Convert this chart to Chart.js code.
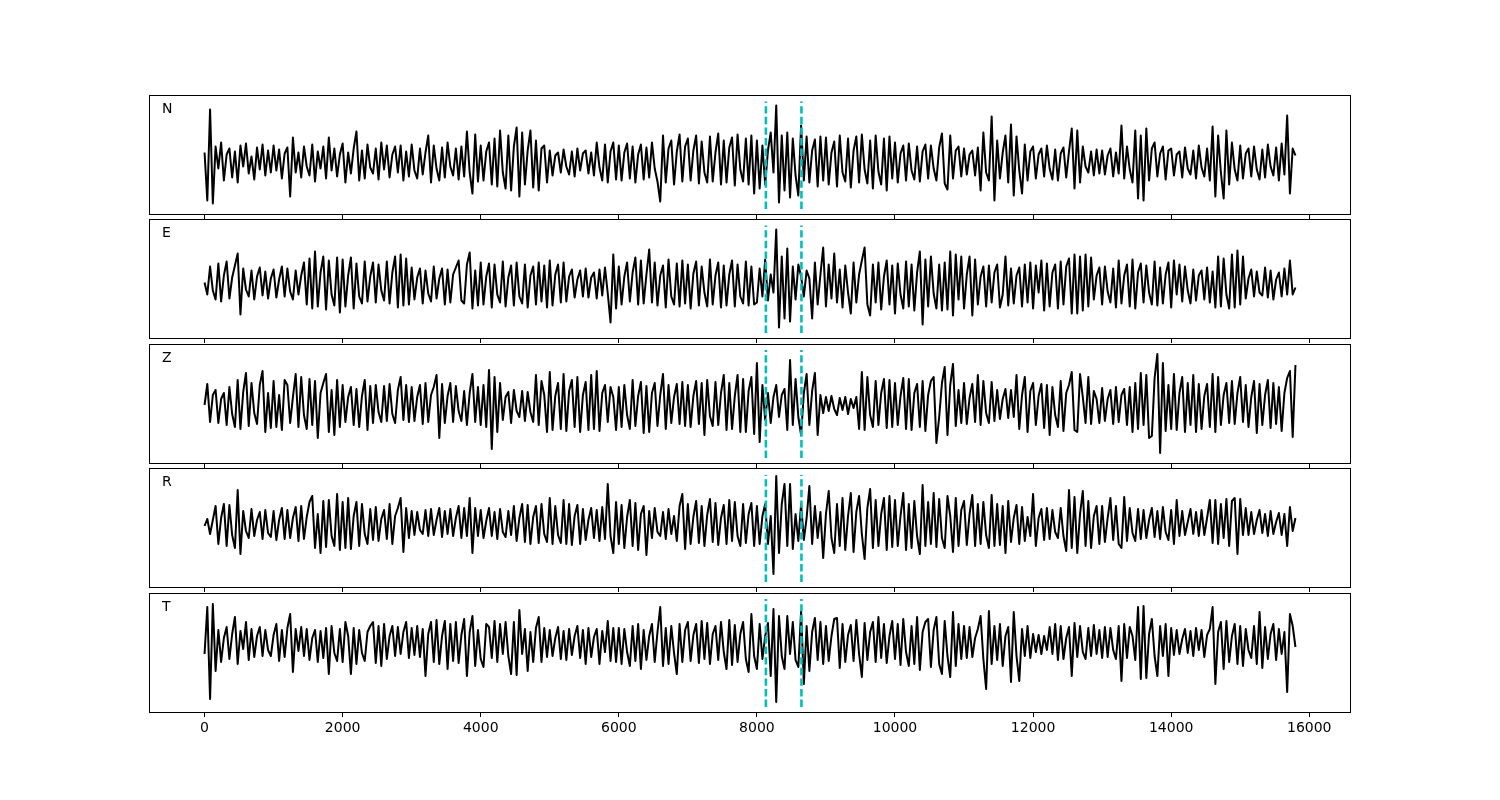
<!DOCTYPE html>
<html>
<head>
<meta charset="utf-8">
<title>Traces N E Z R T</title>
<script src="https://cdn.jsdelivr.net/npm/chart.js@4"></script>
<style>
    body { margin: 0; background: #fff; }
    #wrap { position: relative; width: 1500px; height: 800px; }
    #wrap canvas { position: absolute; left: 0; top: 0; }
</style>
</head>
<body>
<div id="wrap"></div>
<script>
// one value every STEP samples (amplitude, arbitrary units)
const STEP = 40;
const channels = ['N', 'E', 'Z', 'R', 'T'];
const xTicks = [0, 2000, 4000, 6000, 8000, 10000, 12000, 14000, 16000];
const eventMarks = [8130, 8645];

const traceN = [
    8, -40, 51, -43, 14, -8, 18, -20, 6, 12, -17, 9, -22, 15, -6, 17, -13, 4, -19, 13, -9, 16, -15, 10, -12,
    15, -10, 11, -18, 7, 13, -36, 23, -12, 8, -17, 14, -6, -15, 16, -21, 9, -8, 14, -18, 23, -10, 12, -16, 6,
    17, -22, 8, -13, 12, 29, -20, 10, -18, 16, -7, -13, 12, -19, 18, -9, 15, -17, 6, 14, -12, 15, -20, 9, -16,
    16, -10, -18, 12, -14, 8, 25, -22, 15, -8, -20, 13, -17, 18, -6, -15, 12, -19, 14, -16, 29, -12, -33, 26, -21,
    15, -20, 9, 18, -24, 22, -26, 30, -12, -28, 25, -30, 14, 33, -36, 28, -24, 10, 30, -27, 20, -30, 12, 15, -22,
    10, -15, 5, 8, -12, 11, -6, -14, 9, -16, 12, -10, 7, 10, -13, 8, -15, 18, -7, -20, 16, -22, 9, 18, -19,
    15, -20, 8, 17, -18, 14, -22, 6, 16, -19, 13, -17, 18, -8, -21, -41, 25, -22, 12, 20, -24, 9, 26, -21, 14,
    22, -20, 10, 25, -23, 19, -12, -22, 24, -21, 8, 27, -24, 20, -22, 13, 23, -25, 26, -9, -21, 22, -24, 25, -33,
    20, -28, 15, -24, 10, 28, -12, 55, -42, 25, -30, 28, -37, 22, -15, -35, 35, -20, 24, -22, 10, 21, -26, 24, -20,
    23, -24, 8, 19, -26, 25, -12, -21, 22, -27, 10, 24, -22, 26, -9, -23, 20, -28, 25, -11, -24, 22, -30, 24, -18,
    18, -22, 7, 15, -20, 17, -10, -19, 14, -21, 9, 16, -18, 15, -8, -20, 13, 27, -23, -29, 25, -18, 10, 14, -16,
    12, -14, 6, 10, -15, 13, -30, 28, -12, -20, 44, -40, 20, -18, 8, 25, -22, 36, -35, 24, -10, -33, 16, -20, 9,
    14, -18, 6, 12, -16, 15, -8, -19, 11, -20, 7, 13, -17, 9, 32, -28, 30, -22, 14, -6, -12, 9, -15, 11, -13,
    10, -14, 5, 12, -16, 8, -13, 35, -18, 14, -9, -22, 30, -38, 25, -40, 32, -20, 12, 18, -16, 7, 14, -19, 10,
    12, -15, 6, 9, -17, 13, -8, -14, 10, -18, 15, -7, -16, 12, -20, 34, -36, 25, -12, -38, 30, -24, 18, -9, -20,
    15, -18, 7, 12, -16, 14, -9, -19, 11, -17, 16, -6, -15, 13, -20, 17, -14, 45, -33, 12, 5
];

const traceE = [
    2, -10, 18, -6, -15, 21, -17, 9, 23, -14, 7, 19, 31, -30, 16, -5, -12, 14, -15, 8, 17, -11, 13, -14, 6,
    15, -13, 5, 18, -12, 16, -7, -15, 14, -10, 9, 22, -20, 26, -24, 33, -22, 12, 28, -25, 24, -10, -21, 27, -28,
    25, -22, 9, 27, -24, 21, -12, -19, 23, -17, 8, 22, -18, 20, -6, -16, 23, -19, 12, 28, -23, 30, -21, 26, -20,
    17, -15, 7, 16, -19, 14, -9, -17, 18, -14, 6, 16, -20, 15, -18, 10, 17, 24, -16, -19, 20, 32, -24, 14, -21,
    22, -20, 8, 21, -23, 20, -10, -18, 23, -22, 7, 19, -21, 22, -12, -19, 20, -23, 9, 18, -20, 22, -17, 19, -23,
    24, -21, 10, 20, -18, 22, -17, 8, 15, -13, 5, 14, -12, 16, -13, 7, 12, -14, 15, -11, 17, -9, -38, 30, -24,
    18, -20, 8, 22, -17, 12, 27, -20, 24, -19, 10, 35, -18, 22, -21, 9, 19, -23, 25, -12, -20, 21, -22, 24, -19,
    20, -24, 11, 23, -21, 18, -8, -22, 25, -20, 9, 22, -23, 19, -21, 10, 24, -22, 20, -12, -19, 23, -21, 18, -20,
    -18, 16, -12, 25, -16, 10, -8, 55, -43, 28, -34, 36, -37, 18, -15, 20, 8, -12, 14, 6, -34, 22, -20, 10, 37,
    -22, 20, -14, 31, -18, 15, -23, 19, -8, -29, 22, -18, 10, 24, 37, -20, -31, 20, -18, 22, -25, 8, 24, -20, 19,
    -29, 21, -10, -24, 23, -22, 20, -26, 12, 33, -40, 25, -22, 28, -9, -24, 20, -26, 22, -25, 33, -31, 30, -15, 28,
    -24, 10, 28, -31, 25, -20, 8, 18, -22, 19, -18, 12, 20, -23, -10, 28, -21, 16, -19, 9, 17, -22, 20, -18, 22,
    -24, 19, -8, 24, -26, 21, -22, 12, 20, -24, 23, -20, 18, 26, -29, 30, -29, 28, -26, 30, -22, 27, -15, 9, 17,
    -20, 18, -7, -18, 16, -23, 24, -19, 9, 20, -22, 25, -24, 12, 21, -18, 19, -8, -20, 23, -21, 17, -19, 10, 22,
    -23, 24, -10, 20, -17, 18, -6, -19, 15, -16, 9, 14, -15, 17, -18, 13, -23, 28, -22, 26, -10, -24, 30, -23, 34,
    -20, 28, -14, 6, 15, -12, 13, -8, -11, 17, -13, 14, -15, 5, 12, -12, 16, -10, 24, -10, -3
];

const traceZ = [
    0, 21, -17, 10, 15, -18, 6, 12, -20, 18, -9, -22, 25, -24, 13, 32, -21, 22, -8, -19, 20, 34, -27, 12, -23,
    24, -22, 10, -25, 25, 20, -18, 8, 31, -22, 28, -10, -24, 26, -20, 24, -33, 12, 22, 31, -27, 15, -30, 25, -22,
    20, -17, 8, 18, -20, 16, -22, 9, 25, -25, 19, -18, 20, -7, -17, 19, -16, 21, -9, -18, 15, 28, -15, 20, -17,
    18, -16, 8, 20, -19, 22, -17, 10, 18, 30, -33, 21, -18, 9, 22, -17, 19, -6, -16, 14, -20, 12, 31, -17, 18,
    -20, 20, -22, 35, -44, 28, -27, 22, -15, 8, 13, -18, 15, -6, -12, 14, -16, 13, -7, -17, 30, -20, 24, 10, -27,
    33, -25, 9, 22, -24, 31, -26, 14, 25, -22, 28, -27, 10, 23, -25, 30, -24, 34, -26, 12, 20, -17, 18, 8, -25,
    18, -22, 20, -10, -24, 25, -21, 9, 23, -28, 19, -27, 12, 22, -21, 10, 31, -24, 20, -18, 8, 21, -19, 23, -21,
    20, -22, 9, 24, -19, 22, -30, 25, -11, -21, 23, -20, 12, 30, -25, 22, -24, 9, 30, -27, 26, -27, 14, 28, -29,
    42, -37, 20, -15, 12, -18, 8, 20, -12, 10, 16, -25, 45, -20, 26, -12, -30, 12, 31, -20, 14, 32, -30, 10, -8,
    8, -6, 9, -4, -10, 7, -5, 8, -9, 6, -3, 8, -24, 33, -25, 28, -10, -22, 24, -20, 12, 26, -23, 25, -22,
    22, -20, 9, 27, -24, 26, -25, 12, 21, -22, 24, -26, 10, 24, 28, -38, -12, 22, 38, -30, 20, 41, -21, 15, -18,
    22, -19, 7, 21, -17, 30, -20, 24, -8, -18, 23, -16, 15, -14, 6, 16, -13, 15, -12, 30, -24, 10, 28, -27, 14,
    22, -20, 9, 21, -23, 20, -30, 18, -10, -22, 24, -26, 12, 20, 33, -25, -27, 31, 8, -18, 28, -19, 14, 6, -18,
    17, -16, 6, 15, -19, 18, -17, 10, 16, -20, 18, -27, 22, -24, 32, -20, 30, -33, -31, 27, 51, -48, 42, -26, 20,
    -24, 31, -25, 12, 28, -27, 22, -20, 30, -27, 21, -24, 9, 21, -22, 31, -27, 28, -20, 10, 22, -18, 24, -19, 12,
    28, -17, 20, -22, 8, 24, -28, 21, -20, 10, 25, -23, 22, -19, 18, -26, 12, 27, 34, -32, 40
];

const traceR = [
    0, 7, -8, 6, 20, -18, 8, 22, -20, 21, -9, -22, 36, -28, 15, -5, -12, 17, -10, 6, 14, -13, 16, -7, -11,
    15, -14, 6, 18, -13, 16, -12, 8, 19, -15, 20, -13, 9, 24, 30, -22, 12, -27, 25, -21, 26, -10, -20, 32, -24,
    24, -22, 28, -23, 10, 24, -20, 22, -8, -18, 17, -14, 19, -15, 7, 16, -13, 22, -18, 10, 18, 28, -26, 18, -12,
    15, -9, 14, -4, -8, 16, -10, 17, -9, 6, 18, -11, 15, -8, 17, -10, 8, 20, -12, 18, -10, 28, -27, 18, -10,
    16, -12, 5, 18, -10, 14, -13, 17, -6, -11, 15, -9, 20, -15, 8, 22, -16, 21, -18, 9, 20, -17, 22, -8, -16,
    28, -18, 20, -9, -17, 26, -18, 22, -19, 10, 21, -18, 17, -14, 6, 18, -12, 16, -15, 19, -13, 42, -10, -27, 24,
    -18, 21, -22, 9, 26, -20, 23, -24, 12, 20, -29, 15, -12, 18, -6, -10, 14, -13, 17, -8, 10, -15, 20, 32, -23,
    22, -18, 9, 25, -17, 20, -20, 11, 27, -16, 23, -19, 8, 21, -18, 26, -15, 24, -10, -20, 22, -17, 12, 23, -20,
    20, -18, 10, 22, -18, 10, -48, 50, -27, 22, 42, -20, 42, -23, 12, -15, 22, -14, 8, 40, -18, 20, -12, 14, -32,
    12, 35, -12, -27, 22, -20, 28, -24, 10, 33, -26, 14, 30, -8, -33, 18, 37, -22, 26, -20, 12, 28, -24, 30, -21,
    26, -20, 10, 33, -24, 22, -22, 25, -10, -28, 41, -20, 24, -18, 33, -21, 27, -12, -22, 30, 10, -26, 28, -20, 16,
    25, -19, 12, 31, -20, 22, -18, 24, -9, -22, 31, -20, 22, -19, 20, -27, 25, -16, 8, 21, -18, 19, -15, 9, -10,
    32, -20, 8, 17, -14, 18, -13, 16, -6, -12, 18, -10, -25, 36, -22, 29, -27, 12, 35, -20, 25, -22, 10, 20, -18,
    20, -16, 8, 28, -14, 20, -18, -22, 29, -15, 18, -7, -15, 17, -13, 16, -12, 6, 18, -11, 15, -13, 19, -6, -14,
    16, -18, 26, -10, 15, -9, 4, 17, -8, 14, -10, 16, -9, 8, 26, -17, 26, -18, 22, -12, 27, -20, 25, 28, -28,
    27, -9, 18, -9, 14, -8, 6, 16, -7, 12, -10, 15, -8, 4, 13, -9, 12, -20, 19, -5, 8
];

const traceT = [
    -10, 37, -55, 40, -27, 14, -18, 6, 17, -15, 10, 27, -20, 13, -5, 22, -16, 15, -13, 8, 17, -12, 14, -6, -12,
    9, 20, -17, 14, -13, 16, 30, -28, 15, -7, 17, -12, 15, -16, 6, 14, -18, 13, -14, 16, -30, 18, -9, -17, 15,
    -18, 22, 8, -30, 16, -20, 14, -9, -17, 12, 18, 22, -19, 18, -22, 20, -15, 8, 18, -12, 17, -10, 12, 22, -14,
    16, -11, 18, -13, 15, -32, 10, 22, -18, 24, -20, 8, 23, -25, 20, -17, 22, -19, 9, 25, -32, 12, 28, -22, 14,
    -15, -23, 20, 17, -14, 23, -18, 20, -10, 22, -12, -30, 22, -31, 34, -10, 15, -27, 12, -18, 16, 27, -18, 16, -13,
    14, -12, 6, 17, -15, 13, -16, 15, -11, 8, 18, -14, 14, -20, 16, -13, 7, 15, -20, 13, -8, 23, -17, 16, -18,
    16, -20, 15, -8, -22, 18, -17, 20, -25, 14, -16, 8, 20, -18, 12, 37, -22, 16, -20, 18, -9, -30, 20, -18, 14,
    22, -17, 9, 20, -19, 23, -15, 21, -20, 10, 18, -16, 22, -8, -25, 24, -21, 19, -18, 10, 22, -15, -28, 30, -12,
    -25, 20, -15, 8, 21, -32, 35, -58, 28, -12, -25, 28, -10, 22, -16, -23, 33, -40, 18, -27, 12, 26, -16, 22, -20,
    18, -17, 8, 25, 26, -24, 20, -18, 9, 19, -17, 24, -10, -33, 21, -16, 12, 22, -18, 27, -14, 20, -19, 8, 23,
    -15, 20, -21, 25, -8, -22, 18, -20, 27, -26, 12, 22, 25, -23, 14, 27, -20, -30, 23, -12, -33, 32, -22, 20, -15,
    18, -14, 17, -13, 6, 15, 28, -15, -45, 33, -20, 18, -16, 20, -22, 8, 17, -38, 32, -12, -37, 15, -12, 18, -14,
    10, -8, 9, -10, 8, -6, 17, -10, 20, -16, 18, -15, 6, 17, -32, 21, -13, 18, -8, -15, 16, -12, 19, -10, 14,
    -14, 17, -13, 16, -6, -15, 18, -37, 20, -14, 17, 8, -16, 37, -35, 38, -34, 10, 25, -12, -32, 18, -12, 20, -32,
    16, -11, 14, -10, 5, 15, -9, 13, -12, 16, -6, 14, -13, 9, 15, 37, -40, 12, 22, -25, 23, -18, 8, 20, -20,
    18, -22, 15, -6, -14, 18, -20, 32, -24, 17, -15, 10, 20, -16, 15, -10, 12, -48, 30, 18, -3
];

const traces = [traceN, traceE, traceZ, traceR, traceT];
// y limits of each panel and the extent of the dashed event lines
const yLimits = [[-53.5, 64.5], [-53.5, 64.5], [-58, 60], [-61, 57], [-68, 50]];
const markSpans = [[-48.5, 59], [-48.5, 59], [-53, 55], [-56, 51], [-63, 45]];

// page layout of the five stacked panels
const panelTop = [96, 220, 345, 469, 594];
const panelBottom = [214, 338, 463, 587, 712];
const AXIS_H = 40;

const framePlugin = {
    id: 'frame',
    afterDraw(chart, args, opts) {
        let ctx = chart.ctx;
        let a = chart.chartArea;
        ctx.save();
        ctx.strokeStyle = '#000';
        ctx.lineWidth = 1;
        ctx.strokeRect(a.left - 0.5, a.top - 0.5, a.right - a.left + 1, a.bottom - a.top + 1);
        ctx.fillStyle = '#000';
        ctx.font = '14px "DejaVu Sans"';
        ctx.textBaseline = 'alphabetic';
        ctx.fillText(opts.label, a.left + 12, a.top + 17);
        ctx.restore();
    }
};

function makePanel(k) {
    let canvas = document.createElement('canvas');
    canvas.width = 1500;
    canvas.height = 800;
    document.getElementById('wrap').appendChild(canvas);

    let datasets = [{
        data: traces[k].map((v, i) => ({x: i * STEP, y: v})),
        borderColor: '#000',
        borderWidth: 2,
        borderJoinStyle: 'round',
        pointRadius: 0,
        order: 1
    }];
    for (let t of eventMarks) {
        datasets.push({
            data: [{x: t, y: markSpans[k][0]}, {x: t, y: markSpans[k][1]}],
            borderColor: 'rgb(0,191,191)',
            borderWidth: 2.6,
            borderDash: [7.4, 3.2],
            pointRadius: 0,
            order: 0
        });
    }

    new Chart(canvas, {
        type: 'line',
        data: {datasets: datasets},
        plugins: [framePlugin],
        options: {
            responsive: false,
            animation: false,
            events: [],
            layout: {
                padding: {left: 150, right: 150, top: panelTop[k], bottom: 800 - AXIS_H - panelBottom[k]}
            },
            plugins: {
                legend: {display: false},
                tooltip: {enabled: false},
                frame: {label: channels[k]}
            },
            scales: {
                x: {
                    type: 'linear',
                    min: -790,
                    max: 16590,
                    afterBuildTicks: s => { s.ticks = xTicks.map(v => ({value: v})); },
                    afterFit: s => { s.height = AXIS_H; },
                    border: {display: false},
                    grid: {drawOnChartArea: false, drawTicks: true, tickLength: 5, color: '#000', lineWidth: 1},
                    ticks: {
                        display: k === channels.length - 1,
                        color: '#000',
                        padding: 3,
                        autoSkip: false,
                        maxRotation: 0,
                        font: {family: 'DejaVu Sans', size: 14},
                        callback: v => String(v)
                    }
                },
                y: {display: false, min: yLimits[k][0], max: yLimits[k][1]}
            }
        }
    });
}

for (let k = 0; k < channels.length; k++)
    makePanel(k);
</script>
</body>
</html>
